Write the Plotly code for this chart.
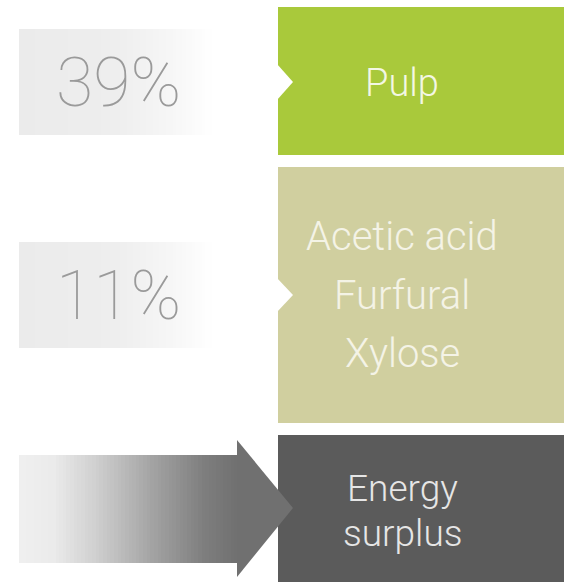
import numpy as np
import plotly.graph_objects as go

# ---- data ----
categories = ["Pulp", "Acetic acid<br>Furfural<br>Xylose", "Energy<br>surplus"]
shares = ["39%", "11%", ""]
box_colors = ["#a9c93b", "#d0cf9f", "#5b5b5b"]
text_colors = ["#f3f7e4", "#f4f3e6", "#e6e6e6"]

# ---- layout geometry (pixel space) ----
W, H = 564, 582
box_x0, box_x1 = 278, 564
box_y = [(7, 155), (167, 423), (435, 582)]
label_y = [(29, 135), (242, 348)]
lbl_x0, lbl_x1 = 19, 215
line_centers = [[82], [236, 294.5, 353], [488, 533]]
txt_size = [38, 40, 37]

fig = go.Figure()

# gradient grey label panels
N = 60
xe = np.linspace(lbl_x0, lbl_x1, N + 1)
zrow = [list(np.linspace(0, 1, N))]
for (y0, y1) in label_y:
    fig.add_trace(go.Heatmap(
        x=xe, y=[y0, y1], z=zrow, showscale=False, hoverinfo="skip",
        colorscale=[[0, "#ebebeb"], [0.5, "#eeeeee"], [0.8, "#f7f7f7"], [1, "#ffffff"]],
        zmin=0, zmax=1))

# gradient arrow shaft
ax0, ax1 = 19, 238
xe2 = np.linspace(ax0, ax1, N + 1)
fig.add_trace(go.Heatmap(
    x=xe2, y=[455, 563], z=zrow, showscale=False, hoverinfo="skip",
    colorscale=[[0, "#efefef"], [0.15, "#ebebeb"], [0.35, "#cfcfcf"], [0.6, "#a5a5a5"],
                [0.85, "#7e7e7e"], [1, "#717171"]],
    zmin=0, zmax=1))

shapes = []
for i, (y0, y1) in enumerate(box_y):
    shapes.append(dict(type="rect", xref="x", yref="y", x0=box_x0, x1=box_x1,
                       y0=y0, y1=y1, fillcolor=box_colors[i], line_width=0, layer="above"))
# notches
for (cy, hh) in [(82, 18), (295, 17)]:
    shapes.append(dict(type="path", xref="x", yref="y",
                       path=f"M {box_x0-1} {cy-hh} L 293 {cy} L {box_x0-1} {cy+hh} Z",
                       fillcolor="white", line_width=0, layer="above"))
# arrow head
shapes.append(dict(type="path", xref="x", yref="y",
                   path="M 237 440 L 293 508 L 237 577 Z",
                   fillcolor="#707070", line_width=0, layer="above"))
fig.update_layout(shapes=shapes)

# texts
ann = []
for i, (y0, y1) in enumerate(label_y):
    ann.append(dict(x=118, y=(y0 + y1) / 2 + 1, xref="x", yref="y", text=shares[i],
                    showarrow=False, font=dict(family="Roboto", size=68, color="#9a9a9a", weight=100)))
for i in range(3):
    for line, cy in zip(categories[i].split("<br>"), line_centers[i]):
        ann.append(dict(x=402, y=cy + 0.5, xref="x", yref="y", text=line,
                        showarrow=False, font=dict(family="Roboto", size=txt_size[i],
                                                   color=text_colors[i], weight=300)))
fig.update_layout(annotations=ann)

fig.update_layout(
    width=W, height=H, margin=dict(l=0, r=0, t=0, b=0),
    paper_bgcolor="white", plot_bgcolor="white",
    xaxis=dict(range=[0, W], visible=False, fixedrange=True),
    yaxis=dict(range=[H, 0], visible=False, fixedrange=True),
    showlegend=False,
)
fig.write_html("out.html")
